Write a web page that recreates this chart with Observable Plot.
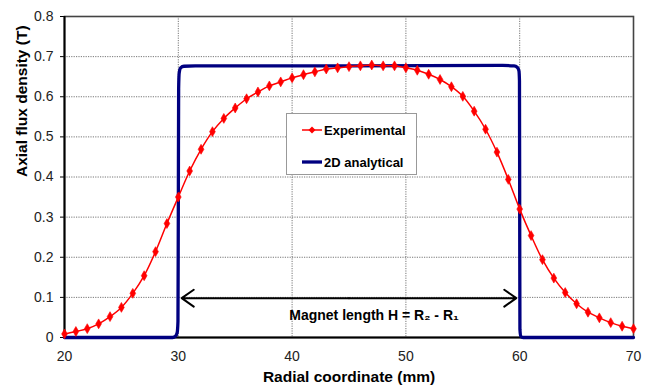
<!DOCTYPE html>
<html>
<head>
<meta charset="utf-8">
<script src="https://cdn.jsdelivr.net/npm/d3@7"></script>
<script src="https://cdn.jsdelivr.net/npm/@observablehq/plot@0.6"></script>
<style>
  html, body { margin: 0; padding: 0; background: #fff; }
  #wrap { position: relative; width: 662px; height: 390px; font-family: "Liberation Sans", Arial, sans-serif; }
  #legend { position: absolute; left: 286px; top: 113px; width: 131px; height: 62px; background: #fff; border: 1px solid #999; box-sizing: border-box; }
  #legend .item { position: absolute; left: 15px; height: 16px; display: flex; align-items: center; font-weight: bold; font-size: 13px; color: #000; }
  #legend svg { margin-right: 2px; }
</style>
</head>
<body>
<div id="wrap"></div>
<script>
// ---- data ----
const xTicks = [20, 30, 40, 50, 60, 70];
const yTicks = [0, 0.1, 0.2, 0.3, 0.4, 0.5, 0.6, 0.7, 0.8];
const gridX = [30, 40, 50, 60];
const gridY = [0.1, 0.2, 0.3, 0.4, 0.5, 0.6, 0.7];

const expX = [20,21,22,23,24,25,26,27,28,29,30,31,32,33,34,35,36,37,38,39,40,41,42,43,44,45,46,47,48,49,50,51,52,53,54,55,56,57,58,59,60,61,62,63,64,65,66,67,68,69,70];
const expY = [0.009,0.015,0.022,0.034,0.052,0.075,0.110,0.154,0.214,0.284,0.350,0.415,0.469,0.513,0.546,0.572,0.595,0.612,0.627,0.637,0.647,0.655,0.662,0.669,0.672,0.675,0.677,0.679,0.677,0.677,0.672,0.666,0.656,0.643,0.625,0.601,0.564,0.519,0.462,0.394,0.320,0.254,0.194,0.148,0.112,0.084,0.063,0.049,0.037,0.028,0.022];

const anaX = [20, 29.5, 29.75, 29.9, 29.97, 30.0, 30.03, 30.08, 30.2, 30.5, 31.5, 45, 58.5, 59.5, 59.8, 59.93, 59.98, 60.0, 60.02, 60.1, 60.3, 70];
const anaY = [0, 0, 0.003, 0.012, 0.04, 0.3, 0.62, 0.66, 0.672, 0.676, 0.677, 0.677, 0.678, 0.677, 0.673, 0.665, 0.64, 0.3, 0.02, 0.003, 0, 0];

const seriesNames = ["Experimental", "2D analytical"];
const seriesColors = ["#ff0000", "#000080"];

const arrowX = [30.3, 59.7];
const arrowY = [0.098];
const noteText = ["Magnet length H = R\u2082 - R\u2081"];
const noteX = [47.2];
const noteY = [0.055];

const xLabel = "Radial coordinate (mm)";
const yLabel = "Axial flux density (T)";

// ---- tables ----
const expData = expX.map((x, i) => ({x, y: expY[i]}));
const anaData = anaX.map((x, i) => ({x, y: anaY[i]}));
const mid = (arrowX[0] + arrowX[1]) / 2;
const arrowData = [{x1: mid, x2: arrowX[0], y: arrowY[0]}, {x1: mid, x2: arrowX[1], y: arrowY[0]}];
const noteData = noteText.map((t, i) => ({t, x: noteX[i], y: noteY[i]}));

const font = "Liberation Sans, Arial, sans-serif";

const chart = Plot.plot({
  width: 662,
  height: 390,
  marginLeft: 64,
  marginRight: 29,
  marginTop: 16,
  marginBottom: 53,
  style: {fontFamily: font, background: "#fff"},
  x: {domain: [20, 70]},
  y: {domain: [0, 0.8]},
  marks: [
    Plot.gridX(gridX, {stroke: "#777", strokeOpacity: 1, strokeDasharray: "1.2,1.2", strokeWidth: 1}),
    Plot.gridY(gridY, {stroke: "#777", strokeOpacity: 1, strokeDasharray: "1.2,1.2", strokeWidth: 1}),
    Plot.axisY(yTicks, {tickSize: 4, tickPadding: 7, fontSize: 14, fill: "#222", stroke: "#000", label: null, tickFormat: d => d === 0 ? "0" : d3.format(".1f")(d)}),
    Plot.axisX(xTicks, {tickSize: 0, tickPadding: 14, fontSize: 14, fill: "#222", label: null}),
    Plot.frame({stroke: "#444", strokeWidth: 1.6}),
    Plot.ruleX([20], {stroke: "#000", strokeWidth: 2}),
    Plot.ruleY([0], {stroke: "#000", strokeWidth: 2}),
    Plot.line(anaData, {x: "x", y: "y", stroke: seriesColors[1], strokeWidth: 3.3, curve: "monotone-x"}),
    Plot.line(expData, {x: "x", y: "y", stroke: seriesColors[0], strokeWidth: 1.5, curve: "catmull-rom"}),
    Plot.dot(expData, {x: "x", y: "y", symbol: "diamond", r: 3, fill: seriesColors[0], stroke: seriesColors[0], strokeWidth: 0.6}),
    Plot.arrow(arrowData, {x1: "x1", x2: "x2", y1: "y", y2: "y", stroke: "#000", strokeWidth: 2, headLength: 11, headAngle: 70, bend: 0}),
    Plot.text(noteData, {x: "x", y: "y", text: "t", fontSize: 14, fontWeight: "bold", fill: "#000"}),
    Plot.text([xLabel], {frameAnchor: "bottom", dy: 44, fontSize: 15.5, fontWeight: "bold", fill: "#000"}),
    Plot.text([yLabel], {frameAnchor: "left", dx: -42, rotate: -90, fontSize: 15.5, fontWeight: "bold", fill: "#000"})
  ]
});

const wrap = document.getElementById("wrap");
wrap.appendChild(chart);

// legend
const legend = document.createElement("div");
legend.id = "legend";
const tops = [8, 40];
seriesNames.forEach((name, i) => {
  const item = document.createElement("div");
  item.className = "item";
  item.style.top = tops[i] + "px";
  const sw = i === 0
    ? `<svg width="20" height="10"><line x1="0" y1="5" x2="20" y2="5" stroke="${seriesColors[0]}" stroke-width="1.5"/><path d="M10,1.5L13.5,5L10,8.5L6.5,5Z" fill="${seriesColors[0]}"/></svg>`
    : `<svg width="20" height="10"><line x1="0" y1="5" x2="20" y2="5" stroke="${seriesColors[1]}" stroke-width="3.3"/></svg>`;
  item.innerHTML = sw + `<span>${name}</span>`;
  legend.appendChild(item);
});
wrap.appendChild(legend);
</script>
</body>
</html>
